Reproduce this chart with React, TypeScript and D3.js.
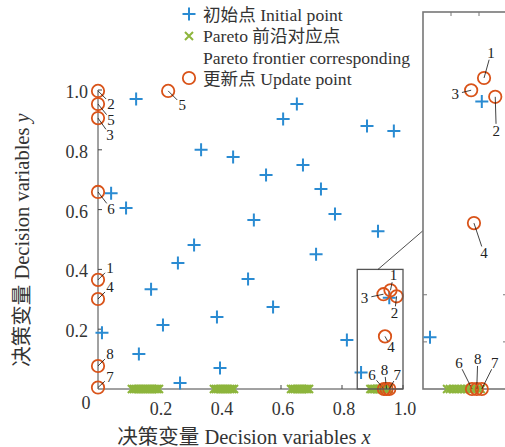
import React from "react";
import * as d3 from "d3";

// initial points (blue +)
const initialX = [0.125, 0.652, 0.607, 0.882, 0.97, 0.338, 0.443, 0.672, 0.551, 0.731, 0.777, 0.511, 0.918, 0.315, 0.715,
  0.262, 0.174, 0.213, 0.134, 0.269, 0.013, 0.043, 0.092, 0.492, 0.39, 0.574, 0.40, 0.816, 0.8625, 0.955];
const initialY = [0.97, 0.953, 0.903, 0.88, 0.863, 0.80, 0.776, 0.749, 0.716, 0.669, 0.585, 0.565, 0.528, 0.482, 0.451,
  0.421, 0.334, 0.214, 0.117, 0.02, 0.188, 0.655, 0.605, 0.368, 0.241, 0.274, 0.07, 0.164, 0.055, 0.305];

// Pareto frontier corresponding points (green x), all on y = 0
const paretoX = [
  0.111, 0.117, 0.123, 0.129, 0.135, 0.141, 0.147, 0.153, 0.159, 0.165, 0.171, 0.177, 0.183, 0.189, 0.195, 0.200,
  0.380, 0.386, 0.392, 0.398, 0.404, 0.410, 0.416, 0.422, 0.428, 0.434, 0.440, 0.446,
  0.633, 0.639, 0.645, 0.651, 0.657, 0.663, 0.669, 0.675, 0.681, 0.687, 0.692,
  0.893, 0.898, 0.903, 0.908, 0.913, 0.918, 0.923, 0.928, 0.933, 0.938, 0.943, 0.948, 0.953];
const paretoY = paretoX.map(() => 0);

// update points (orange o) and their numbers
const updateX = [0, 0, 0, 0, 0, 0, 0, 0, 0.23, 0.959, 0.936, 0.979, 0.941, 0.9375, 0.946, 0.955];
const updateY = [0.997, 0.953, 0.906, 0.659, 0.365, 0.301, 0.077, 0.005, 0.997, 0.330, 0.317, 0.310, 0.176, 0, 0, 0];
const updateLabel = ["2", "5", "3", "6", "1", "4", "8", "7", "5", "1", "3", "2", "4", "6", "8", "7"];

// label placement (px offsets from the marker)
const mainLabelOffset = [[13, 13], [13, 16], [12, 17], [13, 17], [12, -12], [12, -12], [12, -12], [12, -11], [14, 14],
  [3, -15], [-19, 4], [-2, 17], [6, 11], [-12, -14], [-2, -19], [8, -14]];
const insetLabelOffset: Record<number, number[]> = {
  9: [7, -25], 10: [-16, 4], 11: [1, 34], 12: [10, 30], 13: [-13, -26], 14: [1, -30], 15: [13, -26],
};

const xTicks = [0.2, 0.4, 0.6, 0.8, 1.0];
const yTicks = [0.2, 0.4, 0.6, 0.8, 1.0];
const insetXTicks = [0.9, 0.95];
const insetYTicks = [0.05, 0.1];
const zoomBox = { x0: 0.85, x1: 1.0, y0: 0, y1: 0.4 };

const legendItems = ["初始点 Initial point", "Pareto 前沿对应点", "Pareto frontier corresponding", "更新点 Update point"];

const BLUE = "#2a8bd2";
const GREEN = "#8db53c";
const ORANGE = "#d95319";
const FONT = "'Liberation Serif', 'Times New Roman', 'Noto Sans CJK SC', serif";

const Plus = ({ x, y }: { x: number; y: number }) => (
  <path d={`M${x - 6.5},${y}H${x + 6.5}M${x},${y - 6.5}V${y + 6.5}`} stroke={BLUE} strokeWidth={2} fill="none" />
);
const Cross = ({ x, y }: { x: number; y: number }) => (
  <path d={`M${x - 4},${y - 4}L${x + 4},${y + 4}M${x - 4},${y + 4}L${x + 4},${y - 4}`} stroke={GREEN} strokeWidth={2} fill="none" />
);
const Ring = ({ x, y }: { x: number; y: number }) => (
  <circle cx={x} cy={y} r={6.2} stroke={ORANGE} strokeWidth={1.8} fill="none" />
);

function Marks({ sx, sy, offsets, only }: any) {
  const inRange = (x: number, y: number) => {
    if (!only) return true;
    const [a, b] = sx.domain();
    const [c, d] = sy.domain();
    return x >= a - 1e-9 && x <= b + 1e-9 && y >= c - 1e-9 && y <= d + 1e-9;
  };
  return (
    <g>
      {initialX.map((x, i) =>
        inRange(x, initialY[i]) ? <Plus key={"p" + i} x={sx(x)} y={sy(initialY[i])} /> : null
      )}
      {paretoX.map((x, i) =>
        inRange(x, paretoY[i]) ? <Cross key={"c" + i} x={sx(x)} y={sy(paretoY[i])} /> : null
      )}
      {updateX.map((x, i) => {
        const off = offsets[i];
        if (!off || !inRange(x, updateY[i])) return null;
        const cx = sx(x), cy = sy(updateY[i]);
        const len = Math.hypot(off[0], off[1]);
        const k = Math.max(0, (len - 7) / len);
        return (
          <g key={"u" + i}>
            <Ring x={cx} y={cy} />
            <line x1={cx} y1={cy} x2={cx + off[0] * k} y2={cy + off[1] * k} stroke="#111" strokeWidth={0.8} />
            <text x={cx + off[0]} y={cy + off[1]} fontSize={15} textAnchor="middle" dominantBaseline="central" fill="#222">
              {updateLabel[i]}
            </text>
          </g>
        );
      })}
    </g>
  );
}

export default function App() {
  const x = d3.scaleLinear().domain([0, 1]).range([98, 403]);
  const y = d3.scaleLinear().domain([0, 1]).range([389, 90]);
  const xi = d3.scaleLinear().domain([zoomBox.x0, zoomBox.x1]).range([423, 507]);
  const yi = d3.scaleLinear().domain([zoomBox.y0, zoomBox.y1]).range([389, 12]);
  const axisColor = "#444";
  const insetColor = "#777";

  return (
    <svg width={505} height={447} style={{ position: "absolute", left: 0, top: 0 }} fontFamily={FONT}>
      <rect width={505} height={447} fill="#fff" />
      {/* legend */}
      <g fontSize={17.6} fill="#333">
        <Plus x={189} y={14} />
        <Cross x={189} y={36} />
        <Ring x={189} y={78} />
        {legendItems.map((t, i) => (
          <text key={i} x={203} y={[15, 36, 58, 79][i]} dominantBaseline="central">{t}</text>
        ))}
      </g>

      {/* main axes */}
      <g stroke={axisColor} strokeWidth={1}>
        <line x1={x(0)} x2={x(1)} y1={y(0)} y2={y(0)} />
        <line x1={x(0)} x2={x(0)} y1={y(0)} y2={y(1)} />
        {xTicks.map((t) => <line key={t} x1={x(t)} x2={x(t)} y1={y(0)} y2={y(0) - 4} />)}
        {yTicks.map((t) => <line key={t} x1={x(0)} x2={x(0) + 4} y1={y(t)} y2={y(t)} />)}
      </g>
      <g fontSize={18} fill="#333">
        {xTicks.map((t) => (
          <text key={t} x={x(t) + 2} y={y(0) + 20} textAnchor="middle" dominantBaseline="central">{t.toFixed(1)}</text>
        ))}
        {yTicks.map((t) => (
          <text key={t} x={x(0) - 10} y={y(t) + 2} textAnchor="end" dominantBaseline="central">{t.toFixed(1)}</text>
        ))}
        <text x={86} y={403} textAnchor="middle" dominantBaseline="central">0</text>
      </g>
      <g fontSize={20.5} fill="#333">
        <text x={244} y={437} textAnchor="middle" dominantBaseline="central">
          决策变量 Decision variables <tspan fontStyle="italic">x</tspan>
        </text>
        <text transform="translate(22,240) rotate(-90)" textAnchor="middle" dominantBaseline="central">
          决策变量 Decision variables <tspan fontStyle="italic">y</tspan>
        </text>
      </g>

      <Marks sx={x} sy={y} offsets={mainLabelOffset} />

      {/* zoom box on main axes and connector */}
      <rect x={x(zoomBox.x0)} y={y(zoomBox.y1)} width={x(zoomBox.x1) - x(zoomBox.x0)} height={y(zoomBox.y0) - y(zoomBox.y1)}
        fill="none" stroke="#555" strokeWidth={1.3} />
      <line x1={x(0.918)} y1={y(zoomBox.y1)} x2={xi(zoomBox.x0)} y2={yi(0.168)} stroke="#222" strokeWidth={0.8} />

      {/* inset axes */}
      <g>
        <rect x={xi(zoomBox.x0)} y={yi(zoomBox.y1)} width={xi(zoomBox.x1) - xi(zoomBox.x0)} height={yi(0) - yi(zoomBox.y1)}
          fill="#fff" stroke={insetColor} strokeWidth={1.6} />
        <g stroke={insetColor} strokeWidth={1}>
          {insetXTicks.map((t) => (
            <g key={t}>
              <line x1={xi(t)} x2={xi(t)} y1={yi(zoomBox.y1)} y2={yi(zoomBox.y1) + 4} />
              <line x1={xi(t)} x2={xi(t)} y1={yi(0)} y2={yi(0) - 4} />
            </g>
          ))}
          {insetYTicks.map((t) => (
            <g key={t}>
              <line x1={xi(zoomBox.x0)} x2={xi(zoomBox.x0) + 4} y1={yi(t)} y2={yi(t)} />
              <line x1={xi(zoomBox.x1)} x2={xi(zoomBox.x1) - 4} y1={yi(t)} y2={yi(t)} />
            </g>
          ))}
        </g>
        <Marks sx={xi} sy={yi} offsets={updateX.map((_, i) => insetLabelOffset[i])} only />
      </g>
    </svg>
  );
}
